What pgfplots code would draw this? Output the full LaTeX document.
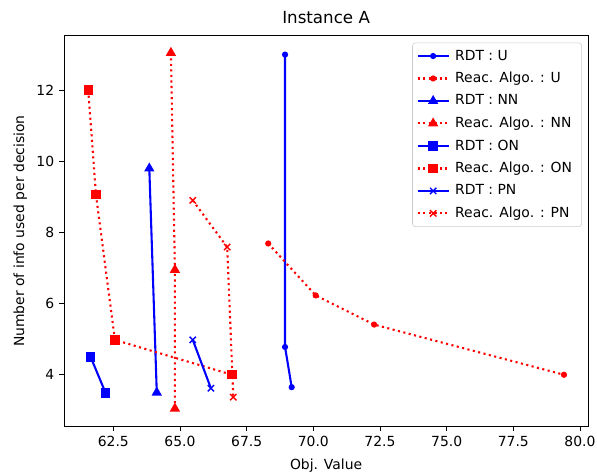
\documentclass[border=0pt]{standalone}
\usepackage{fontspec}
\setmainfont{DejaVu Sans}
\usepackage{pgfplots}
\pgfplotsset{compat=1.18}
\definecolor{mblue}{rgb}{0,0,1}
\definecolor{mred}{rgb}{1,0,0}
\begin{document}
\begin{tikzpicture}
\begin{axis}[
  scale only axis, width=377pt, height=281pt,
  xmin=60.65, xmax=80.31, ymin=2.545, ymax=13.53,
  xtick={62.5,65,67.5,70,72.5,75,77.5,80}, ytick={4,6,8,10,12},
  xticklabel style={/pgf/number format/.cd, fixed, fixed zerofill, precision=1},
  /pgf/number format/assume math mode=true,
  tick align=outside, tick pos=left, major tick length=3.5pt,
  every tick/.style={black, line width=0.6pt},
  axis line style={line width=0.6pt},
  title={Instance A}, title style={font=\fontsize{12}{14}\selectfont, yshift=-1pt},
  xlabel={Obj. Value}, ylabel={Number of info used per decision},
  xlabel style={yshift=-1.5pt},
  font=\fontsize{10}{12}\selectfont,
  ticklabel style={font=\fontsize{10}{12}\selectfont},
  legend cell align=left,
  legend style={at={(1,1)}, anchor=north east, xshift=-4.5pt, yshift=-5pt,
    draw=black!20, rounded corners=2pt, font=\fontsize{10}{12}\selectfont,
    row sep=3.2pt, inner xsep=3pt, inner ysep=3pt,
    nodes={inner xsep=4pt}},
  legend image code/.code={\draw[mark repeat=2,mark phase=2] plot coordinates {(0cm,0cm) (0.39cm,0cm) (0.78cm,0cm)};},
  every axis plot/.append style={line width=1.5pt},
  rdt/.style={mblue, solid, mark options={solid, mblue, line width=1pt}},
  reac/.style={mred, dash pattern=on 1.5pt off 2.475pt, mark options={solid, mred, line width=1pt}},
]
\addplot[rdt, mark=*, mark size=1.7pt] coordinates {(68.94,13.0) (68.94,4.78) (69.19,3.65)};
\addlegendentry{RDT : U}
\addplot[reac, mark=*, mark size=1.7pt] coordinates {(68.31,7.69) (70.09,6.23) (72.28,5.41) (79.40,4.0)};
\addlegendentry{Reac. Algo. : U}
\addplot[rdt, mark=triangle*, mark size=3.3pt] coordinates {(63.85,9.80) (64.13,3.5)};
\addlegendentry{RDT : NN}
\addplot[reac, mark=triangle*, mark size=3.3pt] coordinates {(64.66,13.05) (64.81,6.95) (64.81,3.05)};
\addlegendentry{Reac. Algo. : NN}
\addplot[rdt, mark=square*, mark size=2.9pt] coordinates {(61.65,4.5) (62.21,3.49)};
\addlegendentry{RDT : ON}
\addplot[reac, mark=square*, mark size=2.9pt] coordinates {(61.56,12.0) (61.85,9.06) (62.56,4.98) (66.95,4.0)};
\addlegendentry{Reac. Algo. : ON}
\addplot[rdt, mark=x, mark size=3.2pt] coordinates {(65.48,4.98) (66.16,3.62)};
\addlegendentry{RDT : PN}
\addplot[reac, mark=x, mark size=3.2pt] coordinates {(65.48,8.90) (66.77,7.59) (67.0,3.37)};
\addlegendentry{Reac. Algo. : PN}
\end{axis}
\pgfresetboundingbox
\path (current axis.south west) ++(-46pt,-32.4pt) coordinate (bl);
\path (current axis.north east) ++(6.3pt,25.7pt) coordinate (tr);
\path[use as bounding box] (bl) rectangle (tr);
\end{tikzpicture}
\end{document}
